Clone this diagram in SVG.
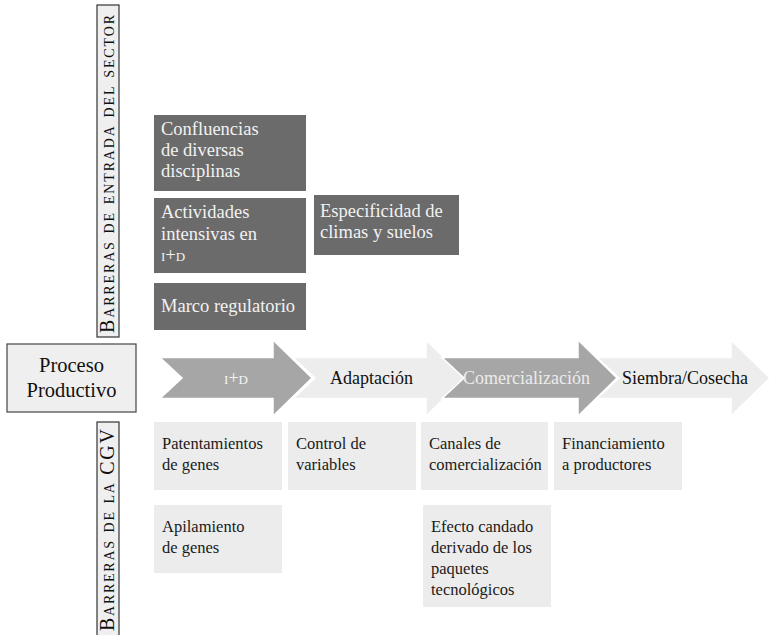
<svg xmlns="http://www.w3.org/2000/svg" width="772" height="635" viewBox="0 0 772 635" font-family="'Liberation Serif', 'DejaVu Serif', serif">
<style>
text{font-family:'Liberation Serif','DejaVu Serif',serif;}
.vbox{fill:#efefef;stroke:#333;stroke-width:1.2;}
.vlab{font-size:20px;fill:#111;font-variant:small-caps;}
.dark{fill:#6b6b6b;}
.dt{font-size:18.5px;fill:#f2f2f2;}
.light{fill:#ececec;}
.lt{font-size:16.5px;fill:#1a1a1a;}
.arD{fill:#a6a6a6;stroke:#fff;stroke-width:1.5;}
.arL{fill:#ededed;stroke:#fff;stroke-width:1.5;}
.at{font-size:18px;}
</style>
<g id="lbl-sector">
<rect class="vbox" x="97" y="5" width="22" height="332"/>
<text class="vlab" transform="translate(114,333) rotate(-90)" textLength="318" lengthAdjust="spacing">Barreras de entrada del sector</text>
</g>
<g id="lbl-cgv">
<rect class="vbox" x="97" y="422" width="22" height="220"/>
<text class="vlab" transform="translate(114,631) rotate(-90)" textLength="202" lengthAdjust="spacing">Barreras de la CGV</text>
</g>
<g id="proceso">
<rect x="7" y="344" width="129" height="68" fill="#efefef" stroke="#444" stroke-width="1.2"/>
<text x="71.5" y="372" text-anchor="middle" font-size="20.5" fill="#111">Proceso</text>
<text x="71.5" y="397" text-anchor="middle" font-size="20.5" fill="#111">Productivo</text>
</g>
<g id="b-confluencias">
<rect class="dark" x="154" y="115" width="152" height="76"/>
<text class="dt" x="161" y="135">Confluencias</text>
<text class="dt" x="161" y="156">de diversas</text>
<text class="dt" x="161" y="177">disciplinas</text>
</g>
<g id="b-actividades">
<rect class="dark" x="154" y="198" width="152" height="75"/>
<text class="dt" x="161" y="218">Actividades</text>
<text class="dt" x="161" y="240">intensivas en</text>
<text class="dt" x="161" y="261" style="font-variant:small-caps">i+d</text>
</g>
<g id="b-marco">
<rect class="dark" x="154" y="283" width="152" height="47"/>
<text class="dt" x="161" y="312">Marco regulatorio</text>
</g>
<g id="b-especificidad">
<rect class="dark" x="314" y="195" width="145" height="60"/>
<text class="dt" x="320" y="217">Especificidad de</text>
<text class="dt" x="320" y="238">climas y suelos</text>
</g>
<g id="connectors">
<polygon id="ar-id" class="arD" points="160,357.5 273,357.5 273,340 312,378 273,416 273,398.5 160,398.5 182,378"/>
<polygon id="ar-adapt" class="arL" points="293,357.5 426,357.5 426,340 465,378 426,416 426,398.5 293,398.5 315,378"/>
<polygon id="ar-com" class="arD" points="442,357.5 578,357.5 578,340 617,378 578,416 578,398.5 442,398.5 464,378"/>
<polygon id="ar-siem" class="arL" points="597,357.5 731,357.5 731,340 770,378 731,416 731,398.5 597,398.5 619,378"/>
</g>
<g id="s-id"><text class="at" x="236" y="384" text-anchor="middle" fill="#f4f4f4" style="font-variant:small-caps">i+d</text></g>
<g id="s-adapt"><text class="at" x="330" y="384" fill="#111">Adaptación</text></g>
<g id="s-com"><text class="at" x="463" y="384" fill="#ececec">Comercialización</text></g>
<g id="s-siem"><text class="at" x="622" y="384" fill="#111">Siembra/Cosecha</text></g>
<g id="c-patent">
<rect class="light" x="154" y="422" width="128" height="68"/>
<text class="lt" x="162" y="449">Patentamientos</text>
<text class="lt" x="162" y="470">de genes</text>
</g>
<g id="c-control">
<rect class="light" x="288" y="422" width="128" height="68"/>
<text class="lt" x="296" y="449">Control de</text>
<text class="lt" x="296" y="470">variables</text>
</g>
<g id="c-canales">
<rect class="light" x="421" y="422" width="127" height="68"/>
<text class="lt" x="429" y="449">Canales de</text>
<text class="lt" x="429" y="470">comercialización</text>
</g>
<g id="c-financ">
<rect class="light" x="554" y="422" width="128" height="68"/>
<text class="lt" x="562" y="449">Financiamiento</text>
<text class="lt" x="562" y="470">a productores</text>
</g>
<g id="c-apil">
<rect class="light" x="154" y="505" width="128" height="68"/>
<text class="lt" x="162" y="532">Apilamiento</text>
<text class="lt" x="162" y="553">de genes</text>
</g>
<g id="c-efecto">
<rect class="light" x="423" y="505" width="128" height="102"/>
<text class="lt" x="431" y="532">Efecto candado</text>
<text class="lt" x="431" y="553">derivado de los</text>
<text class="lt" x="431" y="574">paquetes</text>
<text class="lt" x="431" y="595">tecnológicos</text>
</g>
</svg>
